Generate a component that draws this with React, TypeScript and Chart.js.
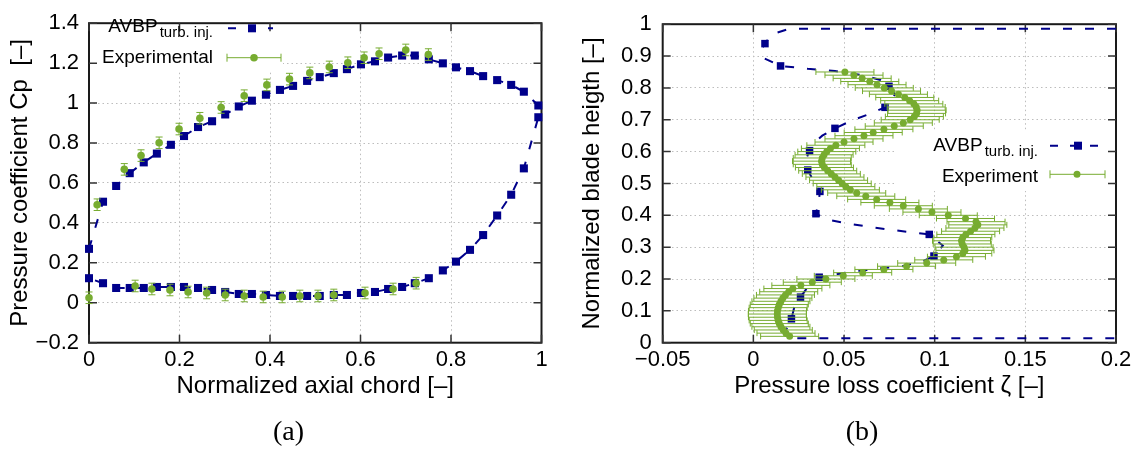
import React, { useEffect, useRef } from "react";
import { Chart, registerables } from "chart.js";

Chart.register(...registerables);

const SANS = '"Liberation Sans", Arial, Helvetica, sans-serif';
const NAVY = "#00008b";
const GREEN = "#77ac30";
const GRID = "#bdbdbd";

// ---------------- (a) Pressure coefficient ----------------
// AVBP: upper surface from leading edge to trailing edge, then lower surface back
const AVBP_A_X = [
  0.0, 0.031, 0.06, 0.09, 0.121, 0.15, 0.181, 0.21, 0.241, 0.272, 0.301, 0.331, 0.36, 0.391, 0.422,
  0.451, 0.482, 0.51, 0.541, 0.57, 0.601, 0.632, 0.661, 0.692, 0.72, 0.751, 0.782, 0.811, 0.842,
  0.871, 0.902, 0.933, 0.961, 0.993, 0.993,
  0.961, 0.933, 0.902, 0.871, 0.842, 0.811, 0.782, 0.751, 0.72, 0.692, 0.661, 0.632, 0.601, 0.57,
  0.541, 0.51, 0.482, 0.451, 0.422, 0.391, 0.36, 0.331, 0.301, 0.272, 0.241, 0.21, 0.181, 0.15,
  0.121, 0.09, 0.06, 0.031, 0.0,
];
const AVBP_A_CP = [
  0.27, 0.506, 0.585, 0.649, 0.703, 0.747, 0.791, 0.835, 0.88, 0.909, 0.943, 0.983, 1.012, 1.042, 1.066,
  1.086, 1.111, 1.13, 1.15, 1.17, 1.194, 1.209, 1.228, 1.238, 1.238, 1.219, 1.199, 1.179, 1.16,
  1.135, 1.115, 1.091, 1.057, 0.988, 0.929,
  0.673, 0.541, 0.437, 0.339, 0.265, 0.206, 0.162, 0.123, 0.098, 0.079, 0.069, 0.054, 0.049, 0.039,
  0.039, 0.034, 0.034, 0.034, 0.034, 0.039, 0.044, 0.044, 0.054, 0.064, 0.074, 0.079, 0.079, 0.079,
  0.074, 0.074, 0.074, 0.098, 0.123,
];
const EXP_A_X = [
  0.018, 0.078, 0.115, 0.155, 0.199, 0.245, 0.292, 0.343, 0.393, 0.443, 0.488, 0.531, 0.572, 0.608,
  0.641, 0.7, 0.75,
  0.0, 0.102, 0.139, 0.179, 0.219, 0.26, 0.301, 0.343, 0.385, 0.427, 0.466, 0.506, 0.541, 0.61,
  0.672, 0.723,
];
const EXP_A_CP = [
  0.491, 0.668, 0.737, 0.801, 0.87, 0.924, 0.978, 1.037, 1.091, 1.12, 1.151, 1.181, 1.202, 1.227,
  1.247, 1.266, 1.243,
  0.025, 0.084, 0.069, 0.064, 0.054, 0.049, 0.039, 0.034, 0.029, 0.029, 0.034, 0.034, 0.039, 0.049,
  0.069, 0.098,
];
const EXP_A_ERR = 0.029;

// ---------------- (b) Pressure loss ----------------
const AVBP_B_Z = [
  0.2, 0.02, 0.01, 0.0064, 0.004, 0.006, 0.015, 0.03, 0.045, 0.06, 0.07, 0.0748, 0.078, 0.0765,
  0.0726, 0.064, 0.054, 0.045, 0.038, 0.033, 0.031, 0.029, 0.03, 0.033, 0.0367, 0.036, 0.0345,
  0.0404, 0.0533, 0.0735, 0.097, 0.1045, 0.0996, 0.0934, 0.0825, 0.0698, 0.0577, 0.0466, 0.0363,
  0.03, 0.026, 0.0225, 0.021, 0.018, 0.018, 0.2,
];
const AVBP_B_H = [
  0.986, 0.986, 0.968, 0.939, 0.915, 0.893, 0.869, 0.86, 0.853, 0.84, 0.825, 0.805, 0.78, 0.758,
  0.739, 0.718, 0.697, 0.673, 0.65, 0.625, 0.603, 0.575, 0.542, 0.51, 0.475, 0.44, 0.405,
  0.387, 0.373, 0.356, 0.34, 0.305, 0.272, 0.256, 0.2405, 0.2334, 0.225, 0.216, 0.2056,
  0.175, 0.143, 0.11, 0.075, 0.04, 0.014, 0.014,
];
const AVBP_B_MARK_Z = [0.0064, 0.015, 0.0748, 0.0726, 0.045, 0.031, 0.03, 0.0367, 0.0345, 0.097, 0.0996, 0.0363, 0.026, 0.021];
const AVBP_B_MARK_H = [0.939, 0.869, 0.805, 0.739, 0.673, 0.603, 0.542, 0.475, 0.405, 0.34, 0.272, 0.2056, 0.143, 0.075];

const EXP_B_H = [
  0.02, 0.03, 0.04, 0.05, 0.06, 0.07, 0.08, 0.09, 0.1, 0.11, 0.12, 0.13, 0.14, 0.15, 0.16, 0.17,
  0.18, 0.19, 0.2, 0.21, 0.22, 0.23, 0.24, 0.25, 0.26, 0.27, 0.28, 0.29, 0.3, 0.31, 0.32, 0.33,
  0.34, 0.35, 0.36, 0.37, 0.38, 0.39, 0.4, 0.41, 0.42, 0.43, 0.44, 0.45, 0.46, 0.47, 0.48, 0.49,
  0.5, 0.51, 0.52, 0.53, 0.54, 0.55, 0.56, 0.57, 0.58, 0.59, 0.6, 0.61, 0.62, 0.63, 0.64, 0.65,
  0.66, 0.67, 0.68, 0.69, 0.7, 0.71, 0.72, 0.73, 0.74, 0.75, 0.76, 0.77, 0.78, 0.79, 0.8, 0.81,
  0.82, 0.83, 0.84, 0.85,
];
const EXP_B_Z = [
  0.02, 0.018, 0.0165, 0.0152, 0.0143, 0.0137, 0.0133, 0.0132, 0.0133, 0.0137, 0.0143, 0.0152,
  0.0163, 0.0177, 0.0195, 0.0218, 0.0262, 0.0325, 0.04, 0.0496, 0.0603, 0.072, 0.0845, 0.0956,
  0.105, 0.112, 0.1155, 0.1167, 0.1162, 0.1152, 0.1148, 0.1155, 0.1172, 0.1198, 0.1222, 0.1238,
  0.1228, 0.117, 0.1075, 0.0985, 0.091, 0.0827, 0.0753, 0.068, 0.062, 0.057, 0.0535, 0.051,
  0.049, 0.047, 0.045, 0.043, 0.041, 0.0392, 0.038, 0.0376, 0.038, 0.039, 0.0405, 0.0425, 0.0455,
  0.05, 0.0555, 0.061, 0.0661, 0.072, 0.0777, 0.0827, 0.0865, 0.0888, 0.09, 0.0903, 0.0898,
  0.0885, 0.0862, 0.0835, 0.08, 0.0762, 0.0722, 0.0682, 0.0642, 0.06, 0.0555, 0.0505,
];
const EXP_B_ERR = 0.016;

const pts = (xs: number[], ys: number[]) => xs.map((x, i) => ({ x, y: ys[i] }));

const fmt = (v: any) => {
  const r = Math.round(Number(v) * 1000) / 1000;
  if (r === 0) return "0";
  return (r < 0 ? "\u2212" : "") + String(Math.abs(r));
};

function makePlugin(spec: any) {
  return {
    id: "decor_" + spec.name,
    beforeDatasetsDraw(chart: any) {
      const { ctx, chartArea: ca, scales } = chart;
      ctx.save();
      const [bx0, by0, bx1, by1] = spec.box;
      ctx.fillStyle = "#ffffff";
      ctx.fillRect(bx0, by0, bx1 - bx0, by1 - by0);
      ctx.strokeStyle = "#1a1a1a";
      ctx.lineWidth = 2;
      ctx.strokeRect(ca.left, ca.top, ca.right - ca.left, ca.bottom - ca.top);
      ctx.lineWidth = 1.5;
      ctx.strokeStyle = "#333";
      ctx.beginPath();
      for (const t of scales.x.ticks) {
        const px = scales.x.getPixelForValue(t.value);
        ctx.moveTo(px, ca.bottom);
        ctx.lineTo(px, ca.bottom - 8);
        ctx.moveTo(px, ca.top);
        ctx.lineTo(px, ca.top + 8);
      }
      for (const t of scales.y.ticks) {
        const py = scales.y.getPixelForValue(t.value);
        ctx.moveTo(ca.left, py);
        ctx.lineTo(ca.left + 8, py);
        ctx.moveTo(ca.right, py);
        ctx.lineTo(ca.right - 8, py);
      }
      ctx.stroke();
      ctx.restore();
    },
    beforeDatasetDraw(chart: any, args: any) {
      if (args.index !== spec.errIndex) return;
      const { ctx, scales } = chart;
      const xs = scales.x, ys = scales.y;
      const data = chart.data.datasets[args.index].data;
      ctx.save();
      ctx.strokeStyle = GREEN;
      ctx.lineWidth = 1;
      ctx.beginPath();
      for (const p of data) {
        if (spec.errDir === "y") {
          const x = xs.getPixelForValue(p.x);
          const y0 = ys.getPixelForValue(p.y - spec.err);
          const y1 = ys.getPixelForValue(p.y + spec.err);
          ctx.moveTo(x, y0); ctx.lineTo(x, y1);
          ctx.moveTo(x - spec.cap, y0); ctx.lineTo(x + spec.cap, y0);
          ctx.moveTo(x - spec.cap, y1); ctx.lineTo(x + spec.cap, y1);
        } else {
          const y = ys.getPixelForValue(p.y);
          const x0 = xs.getPixelForValue(p.x - spec.err);
          const x1 = xs.getPixelForValue(p.x + spec.err);
          ctx.moveTo(x0, y); ctx.lineTo(x1, y);
          ctx.moveTo(x0, y - spec.cap); ctx.lineTo(x0, y + spec.cap);
          ctx.moveTo(x1, y - spec.cap); ctx.lineTo(x1, y + spec.cap);
        }
      }
      ctx.stroke();
      ctx.restore();
    },
    afterDatasetsDraw(chart: any) {
      const { ctx } = chart;
      const L = spec.legend;
      ctx.save();
      ctx.fillStyle = "#000";
      ctx.textBaseline = "alphabetic";
      // row 1: AVBP with subscript
      ctx.font = `15px ${SANS}`;
      const subW = ctx.measureText("turb. inj.").width;
      ctx.font = `19px ${SANS}`;
      const mainW = ctx.measureText("AVBP").width;
      const subX = L.textRight - subW;
      ctx.textAlign = "left";
      ctx.fillText("AVBP", subX - 2 - mainW, L.row1Base);
      ctx.font = `15px ${SANS}`;
      ctx.fillText("turb. inj.", subX, L.row1Base + 5);
      // sample line
      ctx.strokeStyle = NAVY;
      ctx.lineWidth = 2;
      ctx.setLineDash([8, 12]);
      ctx.beginPath();
      ctx.moveTo(L.s0, L.row1Y);
      ctx.lineTo(L.s1, L.row1Y);
      ctx.stroke();
      ctx.setLineDash([]);
      ctx.fillStyle = NAVY;
      ctx.fillRect(L.sm - 4, L.row1Y - 4, 8, 8);
      // row 2
      ctx.fillStyle = "#000";
      ctx.font = `19px ${SANS}`;
      ctx.textAlign = "right";
      ctx.fillText(L.row2Label, L.textRight, L.row2Base);
      ctx.strokeStyle = GREEN;
      ctx.lineWidth = 1;
      ctx.beginPath();
      ctx.moveTo(L.e0, L.row2Y); ctx.lineTo(L.e1, L.row2Y);
      ctx.moveTo(L.e0, L.row2Y - 4); ctx.lineTo(L.e0, L.row2Y + 4);
      ctx.moveTo(L.e1, L.row2Y - 4); ctx.lineTo(L.e1, L.row2Y + 4);
      ctx.stroke();
      ctx.fillStyle = GREEN;
      ctx.beginPath();
      ctx.arc(L.em, L.row2Y, spec.circR, 0, Math.PI * 2);
      ctx.fill();
      ctx.restore();
    },
  };
}

function axis(opts: any) {
  return {
    type: "linear",
    min: opts.min,
    max: opts.max,
    ticks: {
      stepSize: opts.step,
      padding: opts.tickPad,
      font: { family: SANS, size: 22 },
      color: "#000",
      callback: (v: any) => fmt(v),
      autoSkip: false,
      maxRotation: 0,
    },
    grid: { color: GRID, lineWidth: 1, drawTicks: false },
    border: { display: false, dash: [1.5, 3] },
    title: {
      display: true,
      text: opts.title,
      font: { family: SANS, size: 24 },
      color: "#000",
      padding: opts.titlePad,
    },
    afterFit: opts.afterFit,
  };
}

function configA(): any {
  return {
    type: "scatter",
    data: {
      datasets: [
        {
          label: "AVBP",
          data: pts(AVBP_A_X, AVBP_A_CP),
          showLine: true,
          borderColor: NAVY,
          borderWidth: 2,
          borderDash: [9, 13],
          pointStyle: "rect",
          pointRadius: 5.7,
          pointBackgroundColor: NAVY,
          pointBorderWidth: 0,
          order: 2,
          clip: false,
        },
        {
          label: "Experimental",
          data: pts(EXP_A_X, EXP_A_CP),
          showLine: false,
          pointStyle: "circle",
          pointRadius: 3.8,
          pointBackgroundColor: GREEN,
          pointBorderWidth: 0,
          order: 1,
          clip: false,
        },
      ],
    },
    options: {
      responsive: false,
      maintainAspectRatio: false,
      animation: false,
      events: [],
      layout: { padding: { left: 0, top: 16.7, right: 28.5, bottom: 47.3 } },
      plugins: { legend: { display: false }, tooltip: { enabled: false } },
      scales: {
        x: axis({
          min: 0, max: 1, step: 0.2, tickPad: 4,
          title: "Normalized axial chord [\u2013]",
          titlePad: { top: 0, bottom: 1.5 },
          afterFit: (s: any) => { s.height = 60; },
        }),
        y: axis({
          min: -0.2, max: 1.4, step: 0.2, tickPad: 10,
          title: "Pressure coefficient Cp  [\u2013]",
          titlePad: { top: 5.6, bottom: 0 },
          afterFit: (s: any) => { s.width = 89; },
        }),
      },
    },
    plugins: [
      makePlugin({
        name: "a",
        box: [89, 17, 283, 70],
        errIndex: 1,
        errDir: "y",
        err: EXP_A_ERR,
        cap: 3.5,
        circR: 3.8,
        legend: {
          textRight: 213, row1Base: 32.3, row1Y: 28.3, s0: 228, s1: 273, sm: 252,
          row2Label: "Experimental", row2Base: 63.3, row2Y: 57.7, e0: 227, e1: 281, em: 254,
        },
      }),
    ],
  };
}

function configB(): any {
  return {
    type: "scatter",
    data: {
      datasets: [
        {
          label: "AVBP curve",
          data: pts(AVBP_B_Z, AVBP_B_H),
          showLine: true,
          borderColor: NAVY,
          borderWidth: 2,
          borderDash: [9, 13],
          pointRadius: 0,
          order: 3,
        },
        {
          label: "AVBP",
          data: pts(AVBP_B_MARK_Z, AVBP_B_MARK_H),
          showLine: false,
          pointStyle: "rect",
          pointRadius: 5.3,
          pointBackgroundColor: NAVY,
          pointBorderWidth: 0,
          order: 2,
          clip: false,
        },
        {
          label: "Experiment",
          data: pts(EXP_B_Z, EXP_B_H),
          showLine: false,
          pointStyle: "circle",
          pointRadius: 3.5,
          pointBackgroundColor: GREEN,
          pointBorderWidth: 0,
          order: 1,
          clip: false,
        },
      ],
    },
    options: {
      responsive: false,
      maintainAspectRatio: false,
      animation: false,
      events: [],
      layout: { padding: { left: 0, top: 16.7, right: 27, bottom: 47.3 } },
      plugins: { legend: { display: false }, tooltip: { enabled: false } },
      scales: {
        x: axis({
          min: -0.05, max: 0.2, step: 0.05, tickPad: 4,
          title: "Pressure loss coefficient \u03b6 [\u2013]",
          titlePad: { top: 0, bottom: 1.5 },
          afterFit: (s: any) => { s.height = 60; },
        }),
        y: axis({
          min: 0, max: 1, step: 0.1, tickPad: 11,
          title: "Normalized blade heigth [\u2013]",
          titlePad: { top: 7.6, bottom: 0 },
          afterFit: (s: any) => { s.width = 92.7; },
        }),
      },
    },
    plugins: [
      makePlugin({
        name: "b",
        box: [326, 131, 546, 191],
        errIndex: 2,
        errDir: "x",
        err: EXP_B_ERR,
        cap: 3,
        circR: 3.5,
        legend: {
          textRight: 468, row1Base: 150.5, row1Y: 145.7, s0: 480, s1: 535, sm: 508,
          row2Label: "Experiment", row2Base: 181.5, row2Y: 174.3, e0: 480, e1: 535, em: 507,
        },
      }),
    ],
  };
}

export default function App() {
  const refA = useRef<HTMLCanvasElement>(null);
  const refB = useRef<HTMLCanvasElement>(null);
  useEffect(() => {
    const a = new Chart(refA.current as HTMLCanvasElement, configA());
    const b = new Chart(refB.current as HTMLCanvasElement, configB());
    return () => {
      a.destroy();
      b.destroy();
    };
  }, []);
  const capStyle: any = {
    position: "absolute",
    width: 100,
    textAlign: "center",
    font: '28px "Liberation Serif", serif',
    lineHeight: "34px",
    color: "#000",
    top: 413.6,
  };
  return (
    <div style={{ position: "absolute", left: 0, top: 0, width: 1143, height: 450, background: "#fff", overflow: "hidden" }}>
      <canvas ref={refA} width={570} height={450} style={{ position: "absolute", left: 0, top: 0, width: 570, height: 450 }} />
      <canvas ref={refB} width={573} height={450} style={{ position: "absolute", left: 570, top: 0, width: 573, height: 450 }} />
      <div style={{ ...capStyle, left: 238.5 }}>(a)</div>
      <div style={{ ...capStyle, left: 812 }}>(b)</div>
    </div>
  );
}
